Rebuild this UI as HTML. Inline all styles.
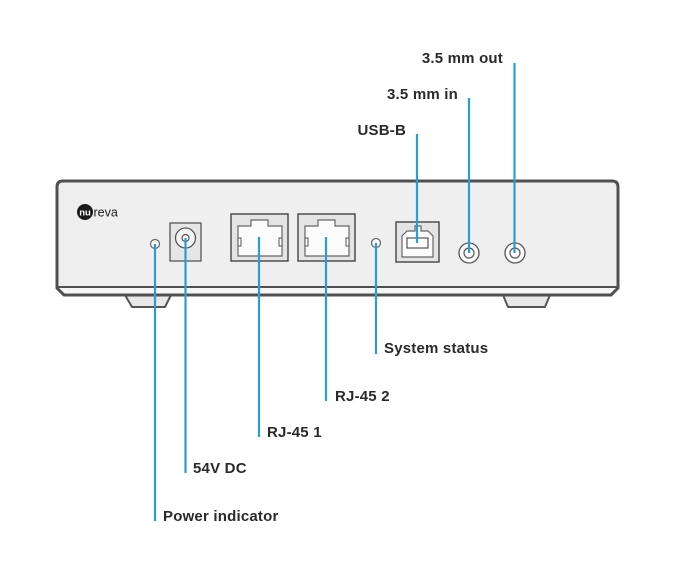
<!DOCTYPE html>
<html>
<head>
<meta charset="utf-8">
<style>
  html,body{margin:0;padding:0;background:#fff;}
  svg{display:block;}
  .lbl{font-family:"Liberation Sans",Arial,sans-serif;font-weight:bold;font-size:15px;fill:#2a2a2a;letter-spacing:0.2px;}
</style>
</head>
<body>
<svg width="698" height="575" viewBox="0 0 698 575" xmlns="http://www.w3.org/2000/svg">
  <rect width="698" height="575" fill="#fff"/>

  <!-- feet -->
  <polygon points="125,295 171,295 165,307 132,307" fill="#e9e9e9" stroke="#555" stroke-width="2" stroke-linejoin="round"/>
  <polygon points="503,295 550,295 545,307 508,307" fill="#e9e9e9" stroke="#555" stroke-width="2" stroke-linejoin="round"/>

  <!-- body -->
  <path d="M57,187 Q57,181 63,181 L612,181 Q618,181 618,187 L618,287 L611,295 L64,295 L57,288 Z" fill="#efefef" stroke="#505050" stroke-width="3" stroke-linejoin="round"/>
  <path d="M58,294 L617,294 L617,288 L58,288 Z" fill="#f6f6f6"/>
  <line x1="57" y1="287" x2="618" y2="287" stroke="#505050" stroke-width="2"/>
  <path d="M57,287 L57,288 L64,295 L611,295 L618,288 L618,287" fill="none" stroke="#505050" stroke-width="3" stroke-linejoin="round"/>

  <!-- logo -->
  <circle cx="85" cy="212" r="8" fill="#1a1a1a"/>
  <text x="85" y="215.5" text-anchor="middle" font-family="Liberation Sans, Arial, sans-serif" font-size="9.5" font-weight="bold" fill="#fff">nu</text>
  <text x="93.5" y="216.5" font-family="Liberation Sans, Arial, sans-serif" font-size="12.5" fill="#222">reva</text>

  <!-- power LED -->
  <circle cx="155" cy="244" r="4.5" fill="#fafafa" stroke="#666" stroke-width="1.2"/>

  <!-- power jack -->
  <rect x="170" y="223" width="31" height="38" fill="#e6e6e6" stroke="#555" stroke-width="1.3"/>
  <circle cx="185.5" cy="238" r="10" fill="#f4f4f4" stroke="#555" stroke-width="1.3"/>
  <circle cx="185.5" cy="238" r="3.5" fill="#fff" stroke="#555" stroke-width="1.2"/>

  <!-- RJ45 1 -->
  <g>
    <rect x="231" y="214" width="57" height="47" fill="#e4e4e4" stroke="#444" stroke-width="1.4"/>
    <path d="M238,226 L251,226 L251,220 L268,220 L268,226 L282,226 L282,256 L238,256 Z" fill="#fbfbfb" stroke="#666" stroke-width="1.2"/>
    <rect x="238" y="238" width="3" height="8" fill="#fff" stroke="#555" stroke-width="1"/>
    <rect x="279" y="238" width="3" height="8" fill="#fff" stroke="#555" stroke-width="1"/>
  </g>
  <!-- RJ45 2 -->
  <g transform="translate(67,0)">
    <rect x="231" y="214" width="57" height="47" fill="#e4e4e4" stroke="#444" stroke-width="1.4"/>
    <path d="M238,226 L251,226 L251,220 L268,220 L268,226 L282,226 L282,256 L238,256 Z" fill="#fbfbfb" stroke="#666" stroke-width="1.2"/>
    <rect x="238" y="238" width="3" height="8" fill="#fff" stroke="#555" stroke-width="1"/>
    <rect x="279" y="238" width="3" height="8" fill="#fff" stroke="#555" stroke-width="1"/>
  </g>

  <!-- system status LED -->
  <circle cx="376" cy="243" r="4.5" fill="#fafafa" stroke="#666" stroke-width="1.2"/>

  <!-- USB-B -->
  <rect x="396" y="222" width="43" height="40" fill="#e4e4e4" stroke="#444" stroke-width="1.4"/>
  <path d="M402,236 L407,231 L415,231 L415,226 L421,226 L421,231 L428,231 L433,236 L433,257 L402,257 Z" fill="#fbfbfb" stroke="#666" stroke-width="1.2"/>
  <rect x="407" y="238" width="21" height="10" fill="#fff" stroke="#555" stroke-width="1.2"/>

  <!-- 3.5mm jacks -->
  <circle cx="469" cy="253" r="10" fill="#fafafa" stroke="#555" stroke-width="1.3"/>
  <circle cx="469" cy="253" r="5" fill="#fff" stroke="#555" stroke-width="1.2"/>
  <circle cx="515" cy="253" r="10" fill="#fafafa" stroke="#555" stroke-width="1.3"/>
  <circle cx="515" cy="253" r="5" fill="#fff" stroke="#555" stroke-width="1.2"/>

  <!-- connector lines -->
  <g stroke="#2a9ed4" stroke-width="2.2" fill="none">
    <line x1="155" y1="244" x2="155" y2="521"/>
    <line x1="185.5" y1="238" x2="185.5" y2="473"/>
    <line x1="259" y1="237" x2="259" y2="437"/>
    <line x1="326" y1="237" x2="326" y2="401"/>
    <line x1="376" y1="243" x2="376" y2="354"/>
    <line x1="417" y1="134" x2="417" y2="243"/>
    <line x1="469" y1="98" x2="469" y2="253"/>
    <line x1="514.5" y1="63" x2="514.5" y2="253"/>
  </g>

  <!-- labels -->
  <text class="lbl" x="163" y="521">Power indicator</text>
  <text class="lbl" x="193" y="473">54V DC</text>
  <text class="lbl" x="267" y="437">RJ-45 1</text>
  <text class="lbl" x="335" y="401">RJ-45 2</text>
  <text class="lbl" x="384" y="353">System status</text>
  <text class="lbl" x="406" y="135" text-anchor="end">USB-B</text>
  <text class="lbl" x="458" y="99" text-anchor="end">3.5 mm in</text>
  <text class="lbl" x="503" y="63" text-anchor="end">3.5 mm out</text>
</svg>
</body>
</html>
